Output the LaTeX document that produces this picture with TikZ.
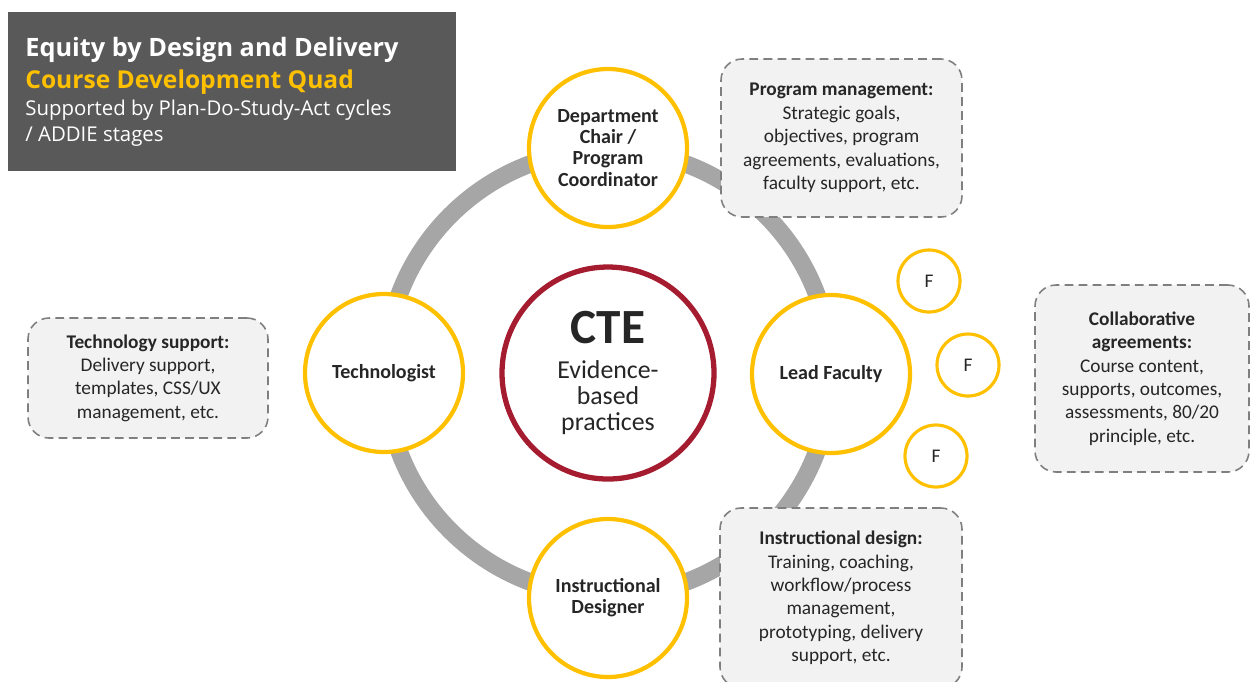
\documentclass[tikz,border=0pt]{standalone}
\usepackage{fontspec}
\setmainfont{Carlito}
\newfontfamily\titlefont{Open Sans}
\definecolor{titlebg}{HTML}{595959}
\definecolor{gold}{HTML}{FFC000}
\definecolor{ring}{HTML}{A6A6A6}
\definecolor{cte}{HTML}{A51C30}
\definecolor{boxfill}{HTML}{F2F2F2}
\definecolor{boxline}{HTML}{7F7F7F}
\definecolor{txt}{HTML}{262626}
\tikzset{
  role/.style={circle, draw=gold, line width=2.4pt, fill=white, minimum size=158*0.02cm, inner sep=0pt, align=center, text=txt, font=\fontsize{11.4}{12}\selectfont\bfseries},
  fcirc/.style={circle, draw=gold, line width=1.8pt, fill=white, minimum size=62*0.02cm, inner sep=0pt, text=txt, font=\fontsize{11}{12}\selectfont},
  infobox/.style={draw=boxline, dashed, dash pattern=on 5pt off 3pt, line width=0.9pt, fill=boxfill, rounded corners=12pt, align=center, text=txt, font=\fontsize{11}{13.3}\selectfont},
}
\begin{document}
\begin{tikzpicture}[x=0.02cm,y=-0.02cm]
\useasboundingbox (0,0) rectangle (1250,681);
% title box
\node[fill=titlebg, minimum width=448*0.02cm, minimum height=159*0.02cm, inner sep=0pt, anchor=north west] (title) at (8,12) {};
\node[anchor=base west, inner sep=0pt, text=white, font=\titlefont\fontsize{14.4}{16}\selectfont\bfseries] (t1) at (25,56) {Equity by Design and Delivery};
\node[anchor=base west, inner sep=0pt, text=gold, font=\titlefont\fontsize{14}{16}\selectfont\bfseries] (t2) at (25,88) {Course Development Quad};
\node[anchor=base west, inner sep=0pt, text=white, font=\titlefont\fontsize{11.6}{16}\selectfont] (t3) at (25,115) {Supported by Plan-Do-Study-Act cycles};
\node[anchor=base west, inner sep=0pt, text=white, font=\titlefont\fontsize{11.6}{16}\selectfont] (t4) at (25,141) {/ ADDIE stages};
% ring
\coordinate (ctr) at (608,373);
\draw[ring, line width=10pt] (ctr) circle[radius=223];
% CTE
\node[circle, draw=cte, line width=3pt, fill=white, minimum size=212*0.02cm, inner sep=0pt, align=center, text=txt, font=\fontsize{14.7}{15}\selectfont] (cte) at (ctr)
  {\fontsize{28}{30}\selectfont\bfseries CTE\\[5pt]
   \fontsize{14.7}{15}\selectfont\mdseries Evidence-\\based\\practices};
% roles
\node[role] (chair) at (608,148) {Department\\Chair /\\Program\\Coordinator};
\node[role] (tech) at (384,373) {Technologist};
\node[role] (lead) at (831,374) {Lead Faculty};
\node[role] (instr) at (608,598) {Instructional\\Designer};
% F circles
\node[fcirc] (f1) at (929,281) {F};
\node[fcirc] (f2) at (968,365) {F};
\node[fcirc] (f3) at (936,456) {F};
% info boxes
\node[infobox, minimum width=241*0.02cm, minimum height=158*0.02cm] (pm) at (841.5,138)
  {\textbf{Program management:}\\Strategic goals,\\objectives, program\\agreements, evaluations,\\faculty support, etc.};
\node[infobox, minimum width=240*0.02cm, minimum height=120*0.02cm] (ts) at (148,378)
  {\textbf{Technology support:}\\Delivery support,\\templates, CSS/UX\\management, etc.};
\node[infobox, minimum width=214*0.02cm, minimum height=187*0.02cm] (ca) at (1142,378.5)
  {\textbf{Collaborative}\\\textbf{agreements:}\\Course content,\\supports, outcomes,\\assessments, 80/20\\principle, etc.};
\node[infobox, minimum width=242*0.02cm, minimum height=180*0.02cm] (id) at (841,598)
  {\textbf{Instructional design:}\\Training, coaching,\\workflow/process\\management,\\prototyping, delivery\\support, etc.};
\end{tikzpicture}
\end{document}
